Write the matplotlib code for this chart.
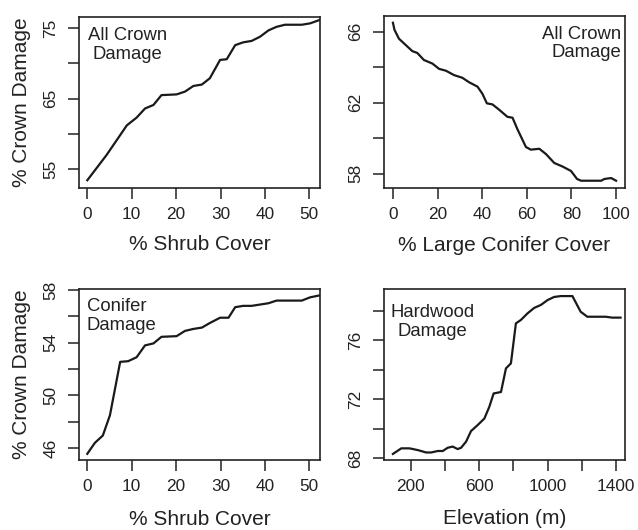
import numpy as np
import matplotlib
matplotlib.use("Agg")
import matplotlib.pyplot as plt

plt.rcParams['font.family'] = ['Liberation Sans', 'DejaVu Sans']

# --- data ---
shrub_x = [0, 4.35, 8.9, 11.1, 13.0, 14.9, 16.7, 20.1, 22.0, 23.9, 25.8, 27.6, 29.9,
           31.4, 33.3, 35.1, 37.0, 38.9, 40.8, 42.6, 44.5, 48.3, 50.2, 52.4]
shrub_all = [53.4, 57.0, 61.2, 62.3, 63.6, 64.1, 65.5, 65.6, 66.0, 66.8, 67.0, 67.9, 70.5,
             70.6, 72.6, 73.0, 73.2, 73.8, 74.7, 75.2, 75.5, 75.5, 75.7, 76.2]

conif_x = [0, 0.7, 2.7, 5.7, 8.7, 10.9, 13.9, 17.7, 20.7, 23.7, 27.4, 31.1, 34.1, 37.9,
           40.1, 42.1, 44.6, 47.6, 51.3, 53.6, 55.8, 59.6, 61.8, 65.6, 68.6, 72.3, 76.0,
           79.8, 82.5, 84.3, 93.3, 94.8, 97.8, 100]
conif_all = [66.5, 66.1, 65.6, 65.25, 64.9, 64.8, 64.4, 64.2, 63.9, 63.8, 63.55, 63.4, 63.15,
             62.9, 62.5, 61.96, 61.9, 61.6, 61.2, 61.15, 60.5, 59.5, 59.35, 59.4, 59.1, 58.6,
             58.4, 58.15, 57.7, 57.6, 57.6, 57.7, 57.75, 57.6]

shrub_x2 = [0, 1.7, 3.5, 5.1, 7.4, 9.2, 11.1, 13.0, 14.9, 16.7, 20.1, 22.0, 23.9, 25.8, 27.6,
            29.9, 31.8, 33.3, 35.1, 37.0, 38.9, 40.8, 42.6, 48.3, 50.2, 52.4]
shrub_conifer = [45.57, 46.4, 46.96, 48.5, 52.55, 52.6, 52.9, 53.8, 53.95, 54.45, 54.5, 54.9,
                 55.05, 55.15, 55.5, 55.9, 55.9, 56.7, 56.8, 56.8, 56.9, 57.0, 57.2, 57.2,
                 57.45, 57.6]

elev_x = [97, 146, 194, 243, 291, 320, 359, 388, 417, 446, 475, 495, 524, 553, 592, 631, 660,
          685, 728, 757, 786, 815, 844, 883, 922, 961, 1000, 1038, 1077, 1145, 1193, 1232,
          1339, 1377, 1426]
elev_hard = [68.3, 68.68, 68.68, 68.56, 68.4, 68.4, 68.5, 68.5, 68.72, 68.8, 68.63, 68.72,
             69.13, 69.85, 70.26, 70.7, 71.5, 72.4, 72.5, 74.1, 74.44, 77.15, 77.38, 77.83,
             78.2, 78.4, 78.73, 78.94, 79.0, 79.0, 77.94, 77.6, 77.6, 77.54, 77.54]

W, H = 638, 530
fig = plt.figure(figsize=(W / 100, H / 100), dpi=100)


def make_ax(l, r, t, b):
    return fig.add_axes([l / W, 1 - b / H, (r - l) / W, (b - t) / H])


def style(ax, xt, xl, yt, yl, xlim, ylim):
    ax.set_xlim(*xlim)
    ax.set_ylim(*ylim)
    ax.set_xticks(xt, labels=xl)
    ax.set_yticks(yt, labels=yl)
    ax.tick_params(direction='out', length=8, width=1.1, colors='#222222',
                   labelsize=12.4, labelcolor='#222222')
    ax.tick_params(axis='x', pad=6)
    ax.tick_params(axis='y', pad=7, labelrotation=90)
    for lab in ax.get_yticklabels():
        lab.set_va('center')
    for s in ax.spines.values():
        s.set_linewidth(1.2)
        s.set_color('#222222')


lc = '#1a1a1a'
lw = 1.6
tfs = 13.3
lfs = 15

# panel 1
ax1 = make_ax(79, 320, 17, 188)
ax1.plot(shrub_x, shrub_all, color=lc, lw=lw)
style(ax1, [0, 10, 20, 30, 40, 50], ['0', '10', '20', '30', '40', '50'],
      [55, 60, 65, 70, 75], ['55', '', '65', '', '75'], (-1.87, 52.4), (52.3, 76.6))
ax1.text(0.201, 0.836, 'All Crown\nDamage', transform=ax1.transAxes, ha='center',
         va='center', fontsize=tfs, linespacing=1.1, color='#222222')
ax1.set_xlabel('% Shrub Cover', fontsize=lfs, va='baseline', color='#222222')
ax1.xaxis.set_label_coords(0.5, -0.365)
ax1.set_ylabel('% Crown Damage', fontsize=lfs, va='center', color='#222222')
ax1.yaxis.set_label_coords(-0.24, 0.5)

# panel 2
ax2 = make_ax(384, 625, 16, 188)
ax2.plot(conif_x, conif_all, color=lc, lw=lw)
style(ax2, [0, 20, 40, 60, 80, 100], ['0', '20', '40', '60', '80', '100'],
      [58, 60, 62, 64, 66], ['58', '', '62', '', '66'], (-4, 104), (57.19, 66.88))
ax2.text(0.983, 0.84, 'All Crown\nDamage', transform=ax2.transAxes, ha='right',
         va='center', fontsize=tfs, linespacing=1.1, color='#222222')
ax2.set_xlabel('% Large Conifer Cover', fontsize=lfs, va='baseline', color='#222222')
ax2.xaxis.set_label_coords(0.5, -0.365)

# panel 3
ax3 = make_ax(79, 320, 289, 460)
ax3.plot(shrub_x2, shrub_conifer, color=lc, lw=lw)
style(ax3, [0, 10, 20, 30, 40, 50], ['0', '10', '20', '30', '40', '50'],
      [46, 48, 50, 52, 54, 56, 58], ['46', '', '50', '', '54', '', '58'],
      (-1.87, 52.4), (45.1, 58.08))
ax3.text(0.032, 0.842, 'Conifer\nDamage', transform=ax3.transAxes, ha='left',
         va='center', fontsize=tfs, linespacing=1.1, color='#222222')
ax3.set_xlabel('% Shrub Cover', fontsize=lfs, va='baseline', color='#222222')
ax3.xaxis.set_label_coords(0.5, -0.38)
ax3.set_ylabel('% Crown Damage', fontsize=lfs, va='center', color='#222222')
ax3.yaxis.set_label_coords(-0.24, 0.5)

# panel 4
ax4 = make_ax(384, 625, 289, 460)
ax4.plot(elev_x, elev_hard, color=lc, lw=lw)
style(ax4, [200, 400, 600, 800, 1000, 1200, 1400],
      ['200', '', '600', '', '1000', '', '1400'],
      [68, 70, 72, 74, 76, 78], ['68', '', '72', '', '76', ''], (45, 1452), (67.89, 79.48))
ax4.text(0.2, 0.807, 'Hardwood\nDamage', transform=ax4.transAxes, ha='center',
         va='center', fontsize=tfs, linespacing=1.1, color='#222222')
ax4.set_xlabel('Elevation (m)', fontsize=lfs, va='baseline', color='#222222')
ax4.xaxis.set_label_coords(0.5, -0.375)

fig.savefig('out.png', dpi=100)
